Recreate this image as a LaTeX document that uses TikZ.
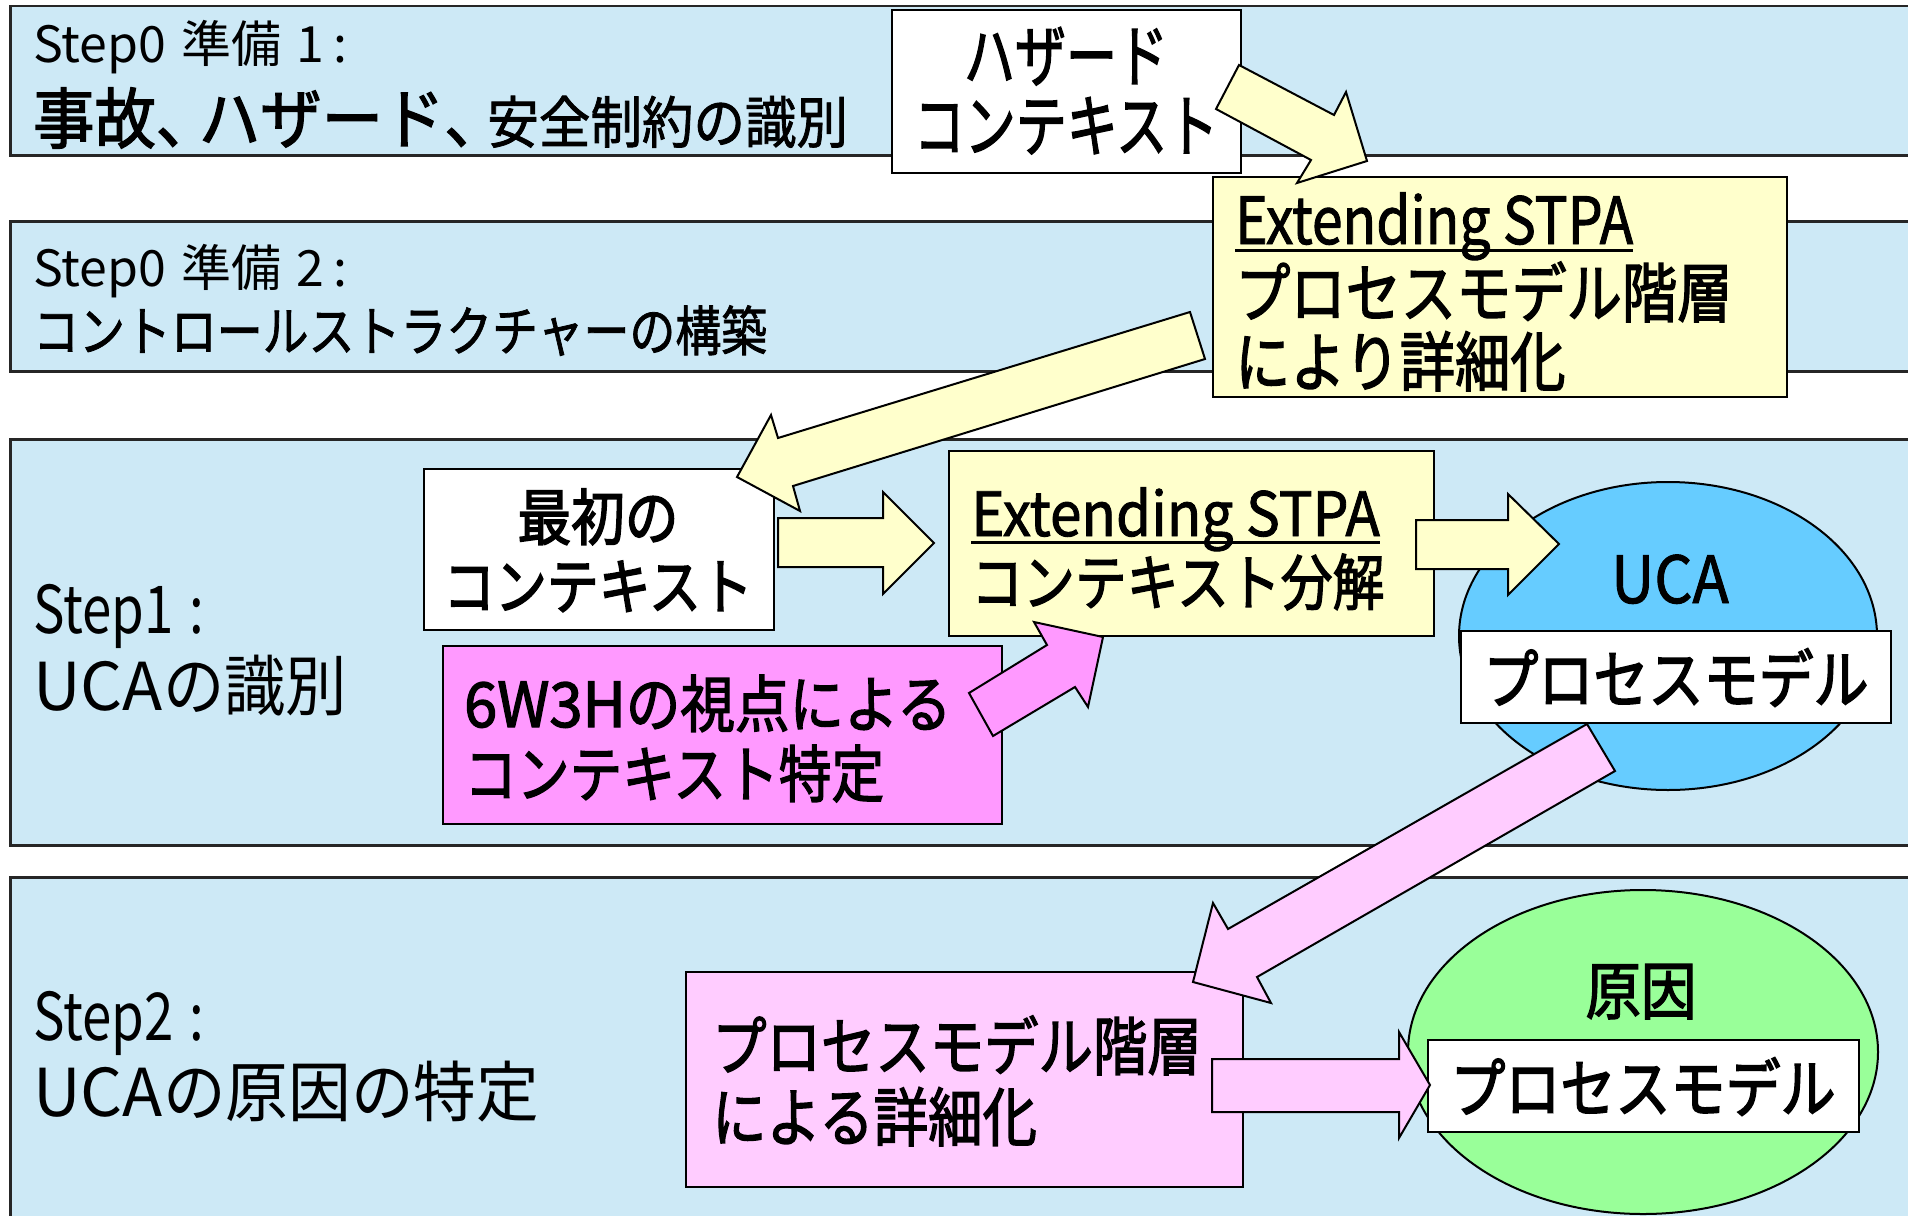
\documentclass[tikz,border=0pt]{standalone}
\usepackage{fontspec}
\usepackage{graphicx}
\setmainfont{Noto Sans CJK JP}
\newfontfamily\fr{Noto Sans CJK JP}
\newfontfamily\fm{Noto Sans CJK JP}[FakeBold=1.5]
\newfontfamily\fh{Noto Sans CJK JP}[FakeBold=2.2]
\newfontfamily\fb{Noto Sans CJK JP}[FakeBold=2.6]
\usetikzlibrary{shapes.geometric}
\definecolor{bandblue}{RGB}{205,233,246}
\definecolor{paleyellow}{RGB}{255,255,204}
\definecolor{hotpink}{RGB}{255,153,255}
\definecolor{lightpink}{RGB}{255,204,255}
\definecolor{ucablue}{RGB}{102,204,255}
\definecolor{causegreen}{RGB}{153,255,153}
\newcommand\fsz[1]{\fontsize{#1}{#1}\selectfont}
\newcommand\tx[3][0.85]{\scalebox{#1}[1]{\fsz{#2}#3}}
\begin{document}
\begin{tikzpicture}[x=1pt,y=-1pt,
  band/.style={draw=black!85,line width=2.5pt,fill=bandblue,anchor=north west,inner sep=0pt},
  boxx/.style={draw=black,line width=2pt,anchor=north west,inner sep=0pt},
  oval/.style={draw=black,line width=2pt,ellipse,inner sep=0pt},
  blk/.style={draw=black,line width=2pt,line join=miter},
  uline/.style={line width=3pt},
  tl/.style={inner sep=0pt,anchor=base west},
  tcn/.style={inner sep=0pt,anchor=base}]
\useasboundingbox (0,0) rectangle (1908,1215);
\clip (0,0) rectangle (1908,1215);
% bands
\node[band,minimum width=1930pt,minimum height=149pt] (b1) at (9,5) {};
\node[band,minimum width=1930pt,minimum height=150pt] (b2) at (9,220) {};
\node[band,minimum width=1930pt,minimum height=406pt] (b3) at (9,438) {};
\node[band,minimum width=1930pt,minimum height=360pt] (b4) at (9,876) {};
% band texts
\node[tl] (t0a) at (33,63) {\fr\tx[1.0]{50}{Step0\hspace{0.3em}準備\hspace{0.3em}1\hspace{0.2em}:}};
\node[tl] (t0b) at (33,143) {\fh\tx[0.93]{66}{事故\makebox[0.7em][l]{、}ハザード\makebox[0.7em][l]{、}}\fm\tx[0.92]{56}{安全制約の識別}};
\node[tl] (t0c) at (33,286) {\fr\tx[1.0]{50}{Step0\hspace{0.3em}準備\hspace{0.3em}2\hspace{0.2em}:}};
\node[tl] (t0d) at (33,351) {\fm\tx{54}{コントロールストラクチャーの構築}};
\node[tl] (t1a) at (33,633) {\fr\tx[0.8]{66}{Step1\hspace{0.3em}:}};
\node[tl] (t1b) at (33,710) {\fr\tx[1.0]{66}{UCA}\tx[0.93]{66}{の識別}};
\node[tl] (t2a) at (33,1040) {\fr\tx[0.8]{66}{Step2\hspace{0.3em}:}};
\node[tl] (t2b) at (33,1116) {\fr\tx[1.0]{66}{UCA}\tx[0.95]{66}{の原因の特定}};
% boxes
\node[boxx,fill=white,minimum width=349pt,minimum height=163pt] (hz) at (891,9) {};
\node[tcn] (hz1) at (1066,81) {\fh\tx[0.75]{68}{ハザード}};
\node[tcn] (hz2) at (1066,151) {\fh\tx[0.75]{68}{コンテキスト}};
\node[boxx,fill=paleyellow,minimum width=574pt,minimum height=220pt] (ex1) at (1212,176) {};
\node[tl] (ex1a) at (1235,244) {\fm\tx{65}{Extending STPA}};
\draw[uline] ([yshift=-6pt]ex1a.base west) -- ([yshift=-6pt]ex1a.base east);
\node[tl] (ex1b) at (1235,317) {\fh\tx{65}{プロセスモデル階層}};
\node[tl] (ex1c) at (1235,386) {\fh\tx{65}{により詳細化}};
\node[boxx,fill=white,minimum width=350pt,minimum height=161pt] (ini) at (423,468) {};
\node[tcn] (ini1) at (598,540) {\fb\tx[0.88]{61}{最初の}};
\node[tcn] (ini2) at (598,609) {\fb\tx[0.85]{61}{コンテキスト}};
\node[boxx,fill=paleyellow,minimum width=485pt,minimum height=185pt] (ex2) at (948,450) {};
\node[tl] (ex2a) at (971,536) {\fm\tx[0.93]{61}{Extending STPA}};
\draw[uline] ([yshift=-6pt]ex2a.base west) -- ([yshift=-6pt]ex2a.base east);
\node[tl] (ex2b) at (971,605) {\fh\tx{61}{コンテキスト分解}};
\node[boxx,fill=hotpink,minimum width=559pt,minimum height=178pt] (wh) at (442,645) {};
\node[tl] (wh1) at (464,727) {\fh\tx[0.96]{62}{6W3H}\tx[0.88]{62}{の視点による}};
\node[tl] (wh2) at (464,797) {\fh\tx{62}{コンテキスト特定}};
\node[boxx,fill=lightpink,minimum width=557pt,minimum height=215pt] (pm) at (685,971) {};
\node[tl] (pm1) at (712,1070) {\fh\tx{64}{プロセスモデル階層}};
\node[tl] (pm2) at (712,1141) {\fh\tx{64}{による詳細化}};
% ellipses
\node[oval,fill=ucablue,minimum width=418pt,minimum height=308pt] (uca) at (1668,636) {};
\node[tcn] (ucat) at (1670,603) {\fm\tx[0.92]{65}{UCA}};
\node[boxx,fill=white,minimum width=430pt,minimum height=92pt] (pmu) at (1460,630) {};
\node[tcn] (pmut) at (1676,703) {\fb\tx[0.86]{64}{プロセスモデル}};
\node[oval,fill=causegreen,minimum width=470pt,minimum height=324pt] (cause) at (1643,1052) {};
\node[tcn] (causet) at (1641,1014) {\fh\tx[0.88]{63}{原因}};
\node[boxx,fill=white,minimum width=431pt,minimum height=92pt] (pmc) at (1427,1039) {};
\node[tcn] (pmct) at (1643,1112) {\fb\tx[0.86]{64}{プロセスモデル}};
% block arrows
\filldraw[blk,fill=paleyellow] (1239,65) -- (1334,115) -- (1346,92) -- (1367,161) -- (1297,183) -- (1311,160) -- (1216,109) -- cycle;
\filldraw[blk,fill=paleyellow] (1190,312) -- (778,438) -- (771,415) -- (737,477) -- (800,511) -- (793,486) -- (1205,359) -- cycle;
\filldraw[blk,fill=paleyellow] (778,518) -- (883,518) -- (883,492) -- (934,543) -- (883,594) -- (883,567) -- (778,567) -- cycle;
\filldraw[blk,fill=paleyellow] (1416,520) -- (1508,520) -- (1508,494) -- (1559,544) -- (1508,595) -- (1508,569) -- (1416,569) -- cycle;
\filldraw[blk,fill=hotpink] (969,693) -- (1047,645) -- (1034,622) -- (1103,637) -- (1088,707) -- (1075,687) -- (993,736) -- cycle;
\filldraw[blk,fill=lightpink] (1587,724) -- (1228,929) -- (1213,903) -- (1193,982) -- (1271,1003) -- (1257,977) -- (1615,771) -- cycle;
\filldraw[blk,fill=lightpink] (1212,1059) -- (1399,1059) -- (1399,1032) -- (1430,1085) -- (1399,1138) -- (1399,1112) -- (1212,1112) -- cycle;
\end{tikzpicture}
\end{document}
